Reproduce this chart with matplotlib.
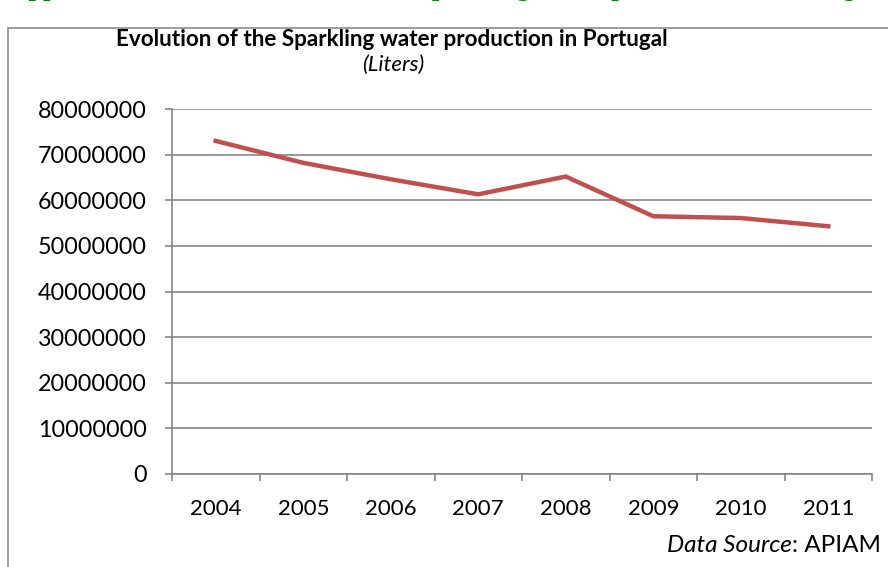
import matplotlib
matplotlib.use('Agg')
import matplotlib.pyplot as plt
from matplotlib.patches import Rectangle

# data (liters)
years = ['2004', '2005', '2006', '2007', '2008', '2009', '2010', '2011']
production = [73000000, 68200000, 64600000, 61300000, 65200000, 56500000, 56100000, 54300000]
yticks = [0, 10000000, 20000000, 30000000, 40000000, 50000000, 60000000, 70000000, 80000000]

W, H = 888, 567
plt.rcParams['font.family'] = ['Lato', 'DejaVu Sans']

fig = plt.figure(figsize=(W / 100, H / 100), dpi=100)
fig.patch.set_facecolor('white')

# frame of the embedded chart (cut off on right and bottom)
fig.patches.append(Rectangle((8 / W, -0.1), 1.2, 1 - 28 / H + 0.1, transform=fig.transFigure,
                             fill=False, edgecolor='#8c8c8c', linewidth=1.2))

# clipped heading of the page above the chart
green = '#127a12'
fig.text(12 / W, 1 + 3 / H, 'Appendix', family='DejaVu Serif', fontweight='bold',
         fontsize=15, color=green, va='baseline')
fig.text(420 / W, 1 + 3 / H, 'sparkling water production in Portugal', family='DejaVu Serif',
         fontweight='bold', fontsize=15, color=green, va='baseline')

ax = fig.add_axes([172 / W, 1 - 474 / H, 700 / W, 365 / H])
x = [i + 0.5 for i in range(len(years))]
ax.plot(x, production, color='#C0504D', linewidth=3.2, solid_joinstyle='miter', zorder=3)

ax.set_xlim(0, len(years))
ax.set_ylim(0, 80000000)
ax.set_yticks(yticks)
ax.set_yticklabels([str(v) for v in yticks])
ax.set_xticks(x)
ax.set_xticklabels(years)
ax.set_xticks(range(len(years) + 1), minor=True)

gray = '#868686'
ax.grid(axis='y', color=gray, linewidth=1.2)
ax.set_axisbelow(True)
for s in ['top', 'right']:
    ax.spines[s].set_visible(False)
for s in ['left', 'bottom']:
    ax.spines[s].set_color(gray)
    ax.spines[s].set_linewidth(1.2)
ax.tick_params(axis='y', length=5, width=1.2, color=gray, pad=13, labelsize=16.8)
ax.tick_params(axis='x', which='major', length=0, pad=18, labelsize=16)
ax.tick_params(axis='x', which='minor', length=5, width=1.2, color=gray)

fig.text(392 / W, 1 - 39 / H, 'Evolution of the Sparkling water production in Portugal',
         fontweight='bold', fontsize=16.2, ha='center', va='center')
fig.text(393 / W, 1 - 65 / H, '(Liters)', style='italic', fontsize=16, ha='center', va='center')

src = fig.text(881 / W, 1 - 556 / H, ': APIAM', fontsize=17.5, ha='right', va='bottom')
ax.annotate('Data Source', xy=(0, 0), xycoords=src, ha='right', va='bottom',
            style='italic', fontsize=17.5)

fig.savefig('out.png', dpi=100)
